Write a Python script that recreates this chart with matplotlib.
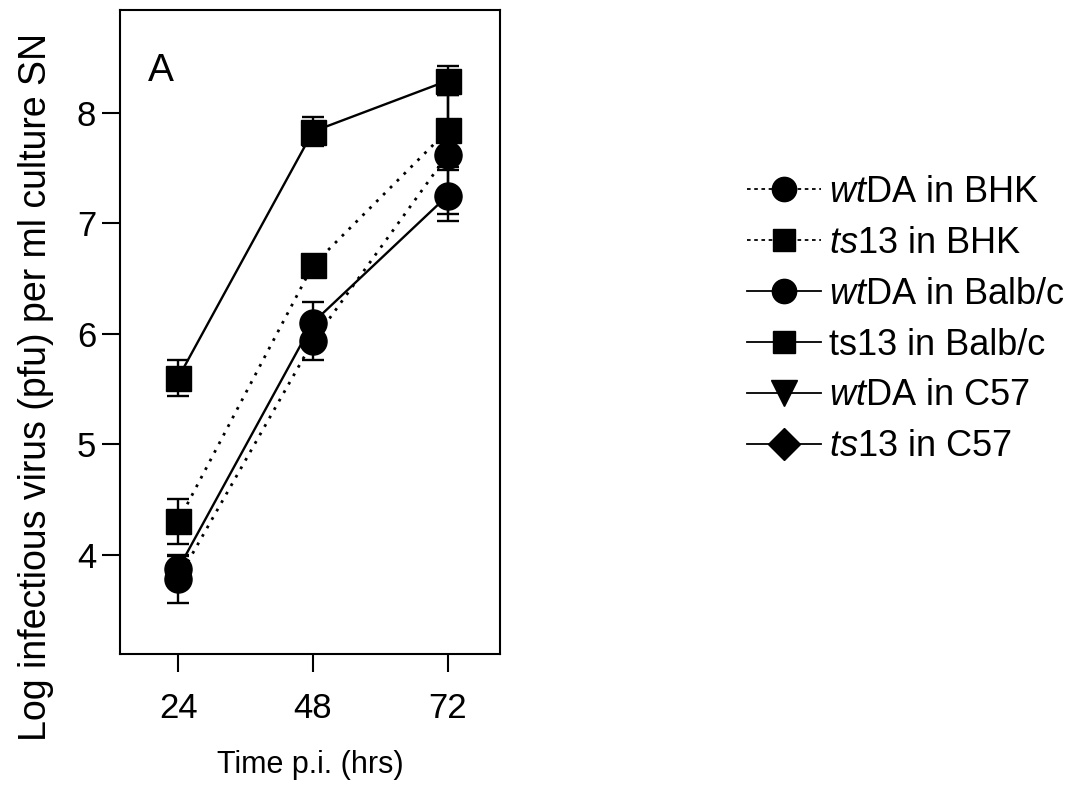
import matplotlib.pyplot as plt
from matplotlib.lines import Line2D

plt.rcParams['font.family'] = ['Liberation Sans', 'DejaVu Sans']
plt.rcParams['mathtext.fontset'] = 'custom'
plt.rcParams['mathtext.rm'] = 'Liberation Sans'
plt.rcParams['mathtext.it'] = 'Liberation Sans:italic'

# Time points (hours post infection)
hours = [24, 48, 72]

# Log titres of infectious virus in culture supernatant
wt_bhk = [3.78, 5.93, 7.62]
wt_bhk_err = [0.22, 0.17, 0.54]
ts_bhk = [4.30, 6.62, 7.84]
ts_bhk_err = [0.20, 0.05, 0.33]
wt_balb = [3.87, 6.10, 7.25]
wt_balb_err = [0.12, 0.19, 0.23]
ts_balb = [5.60, 7.83, 8.29]
ts_balb_err = [0.16, 0.13, 0.13]

series = [
    (wt_bhk, wt_bhk_err, 'o', 'dotted', r'$\mathit{wt}$DA in BHK'),
    (ts_bhk, ts_bhk_err, 's', 'dotted', r'$\mathit{ts}$13 in BHK'),
    (wt_balb, wt_balb_err, 'o', 'solid', r'$\mathit{wt}$DA in Balb/c'),
    (ts_balb, ts_balb_err, 's', 'solid', 'ts13 in Balb/c'),
]
# C57 series appear only in the key
extra_keys = [
    ('v', r'$\mathit{wt}$DA in C57'),
    ('D', r'$\mathit{ts}$13 in C57'),
]

fig = plt.figure(figsize=(10.89, 8.02), dpi=100)
ax = fig.add_axes([0.110, 0.1845, 0.349, 0.803])

handles = []
for vals, errs, marker, style, label in series:
    if style == 'dotted':
        ls, lw = (0, (1, 2.5)), 2.0
    else:
        ls, lw = '-', 1.7
    size = 19.5 if marker == 'o' else 18
    ax.errorbar(hours, vals, yerr=errs, color='black', ls=ls, lw=lw,
                marker=marker, markersize=size, capsize=8, capthick=1.7,
                elinewidth=1.7)
    handles.append(Line2D([], [], color='black', ls=(0, (2, 2)) if style == 'dotted' else '-',
                          lw=1.3, marker=marker, markersize=size - 2, label=label))

for marker, label in extra_keys:
    handles.append(Line2D([], [], color='black', ls='-', lw=1.3, marker=marker,
                          markersize=19 if marker == 'v' else 16, label=label))

ax.set_xlim(13.6, 81.3)
ax.set_ylim(3.1, 8.93)
ax.set_xticks(hours)
ax.set_yticks([4, 5, 6, 7, 8])
ax.tick_params(direction='out', length=13, width=1.5, labelsize=25)
ax.tick_params(axis='x', pad=14)
ax.tick_params(axis='y', pad=4)
for spine in ax.spines.values():
    spine.set_linewidth(1.5)

ax.set_xlabel('Time p.i. (hrs)', fontsize=22, labelpad=18)
ax.set_ylabel('Log infectious virus (pfu) per ml culture SN', fontsize=27)
ax.yaxis.set_label_coords(-0.172, 0.415)
ax.text(0.075, 0.905, 'A', transform=ax.transAxes, fontsize=28, va='center')

fig.legend(handles=handles, loc='upper left', bbox_to_anchor=(0.673, 0.80),
           frameon=False, fontsize=26, handlelength=2.05, handletextpad=0.2,
           labelspacing=0.44, borderaxespad=0)

plt.savefig('out.png')
